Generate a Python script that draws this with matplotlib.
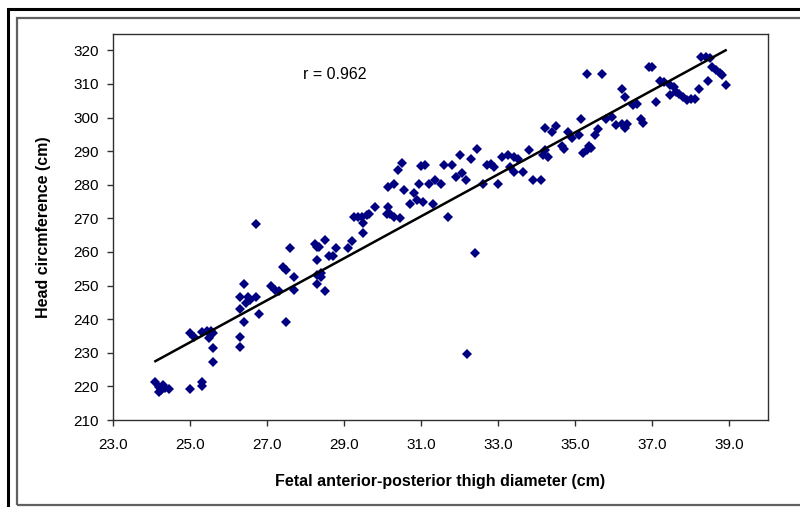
import numpy as np
import matplotlib
matplotlib.use("Agg")
import matplotlib.pyplot as plt
from matplotlib.patches import Rectangle

plt.rcParams['font.family'] = ['Liberation Sans Narrow', 'Liberation Sans', 'DejaVu Sans']

# thigh diameter (cm) and head circumference
thigh = [24.1, 24.2, 24.25, 24.35, 24.45, 24.2, 24.3, 25.0, 25.3, 25.3,
         25.0, 25.1, 25.3, 25.45, 25.55, 25.6, 25.5, 25.6, 25.6,
         26.3, 26.3, 26.3, 26.3, 26.5, 26.55, 26.7, 26.45, 26.4, 26.8, 26.4, 26.7,
         27.1, 27.2, 27.3, 27.4, 27.5, 27.5, 27.6, 27.7, 27.7,
         28.25, 28.35, 28.5, 28.3, 28.8, 29.1, 29.2, 28.3, 28.6, 28.7, 28.3, 28.4, 28.4, 28.5, 28.3,
         29.25, 29.35, 29.45, 29.5, 29.5, 29.6, 29.8, 29.65, 30.1,
         30.15, 30.3, 30.4, 30.5, 30.55, 30.7, 30.8, 30.9, 31.05, 30.15, 30.2, 30.3, 30.45,
         31.0, 31.1, 30.95, 31.2, 31.35, 31.5, 31.3, 31.6, 31.8, 31.9, 32.05, 32.15, 32.0, 32.3,
         32.45, 31.7, 32.4, 32.2,
         32.7, 32.8, 32.9, 32.6, 33.0, 33.1, 33.25, 33.4, 33.5, 33.3, 33.4, 33.65, 33.8, 33.9, 34.1,
         34.15, 34.3, 34.2, 34.2, 34.4, 34.5, 34.65, 34.7, 34.8, 34.9, 35.1, 35.15, 35.2, 35.3,
         35.35, 35.4, 35.5, 35.6, 35.3, 35.7,
         35.8, 35.95, 36.05, 36.2, 36.3, 36.35, 36.2, 36.3, 36.5, 36.6, 36.7, 36.75, 36.9, 37.0, 37.1,
         37.2, 37.3, 37.45, 37.55, 37.6, 37.7, 37.8, 37.9, 38.0, 38.1, 37.45, 38.2, 38.45, 38.25,
         38.4, 38.5, 38.55, 38.65, 38.75, 38.8, 38.9]
head = [221.4, 219.9, 218.9, 219.4, 219.1, 218.2, 220.5, 219.1, 221.4, 220.1,
        235.8, 234.8, 236.2, 236.5, 236.5, 235.8, 234.3, 231.5, 227.3,
        234.6, 231.6, 242.9, 246.5, 246.7, 245.7, 246.5, 244.7, 239.2, 241.5, 250.6, 268.4,
        249.8, 248.6, 248.4, 255.6, 254.6, 239.2, 261.3, 252.4, 248.6,
        262.5, 261.5, 263.5, 261.5, 261.3, 261.3, 263.2, 257.6, 258.7, 258.7, 253.2, 253.6, 252.6, 248.4, 250.6,
        270.5, 270.5, 270.5, 268.5, 265.5, 271.0, 273.4, 271.4, 271.4,
        279.4, 280.3, 284.3, 286.4, 278.5, 274.4, 277.4, 275.4, 274.9, 273.4, 271.4, 270.4, 270.2,
        285.5, 285.8, 280.3, 280.3, 281.5, 280.3, 274.4, 285.8, 285.8, 282.3, 283.5, 281.3, 288.7, 287.7,
        290.7, 270.4, 259.6, 229.6,
        285.8, 286.3, 285.3, 280.3, 280.3, 288.3, 288.8, 288.3, 287.8, 285.3, 283.7, 283.7, 290.4, 281.5, 281.5,
        288.8, 288.3, 290.3, 296.8, 295.7, 297.5, 291.5, 290.6, 295.8, 293.9, 294.7, 299.6, 289.3, 290.3,
        291.5, 290.8, 294.7, 296.7, 312.9, 312.9,
        299.6, 300.2, 297.7, 298.2, 297.0, 298.2, 308.5, 306.0, 303.6, 304.1, 299.7, 298.5, 315.1, 315.1, 304.7,
        310.9, 310.6, 309.6, 309.1, 307.6, 307.1, 306.1, 305.1, 305.6, 305.6, 306.6, 308.6, 310.8, 317.9,
        317.9, 317.6, 315.1, 314.1, 313.1, 312.6, 309.6]

# regression line ends
fit_x = [24.1, 38.9]
fit_y = [227.5, 320.0]

x_ticks = np.arange(23.0, 39.1, 2.0)
y_ticks = np.arange(210, 321, 10)

fig = plt.figure(figsize=(8.0, 5.07), dpi=100)

# double frame round the whole figure
fig.patches.append(Rectangle((8 / 800, -0.1), 1.2, 1 - 9 / 507 + 0.1, transform=fig.transFigure,
                             fill=False, edgecolor='black', linewidth=2.2, clip_on=False))
fig.patches.append(Rectangle((17 / 800, 1 - 505 / 507), 1.2, (505 - 18) / 507, transform=fig.transFigure,
                             fill=False, edgecolor='#606060', linewidth=1.6, clip_on=False))

ax = fig.add_axes([113 / 800, 1 - 420 / 507, (768 - 113) / 800, (420 - 33.5) / 507])
ax.plot(thigh, head, 'D', color='#000080', markersize=5.6, markeredgewidth=0)
ax.plot(fit_x, fit_y, color='black', linewidth=1.8)

ax.set_xlim(23.0, 40.0)
ax.set_ylim(210, 325)
ax.set_xticks(x_ticks)
ax.set_xticklabels([f"{v:.1f}" for v in x_ticks])
ax.set_yticks(y_ticks)
ax.tick_params(direction='out', length=4, width=1, labelsize=11, color='#303030')
ax.tick_params(axis='x', pad=9)
ax.tick_params(axis='y', pad=6)
for s in ax.spines.values():
    s.set_color('#303030')
    s.set_linewidth(1)

ax.set_xlabel("Fetal anterior-posterior thigh diameter (cm)", fontsize=11.5, fontweight='bold', labelpad=16)
ax.set_ylabel("Head circmference (cm)", fontsize=11.5, fontweight='bold', labelpad=16)
ax.text(0.29, 0.893, "r = 0.962", transform=ax.transAxes, fontsize=11.5, ha='left', va='center')

fig.savefig("out.png", dpi=100)
